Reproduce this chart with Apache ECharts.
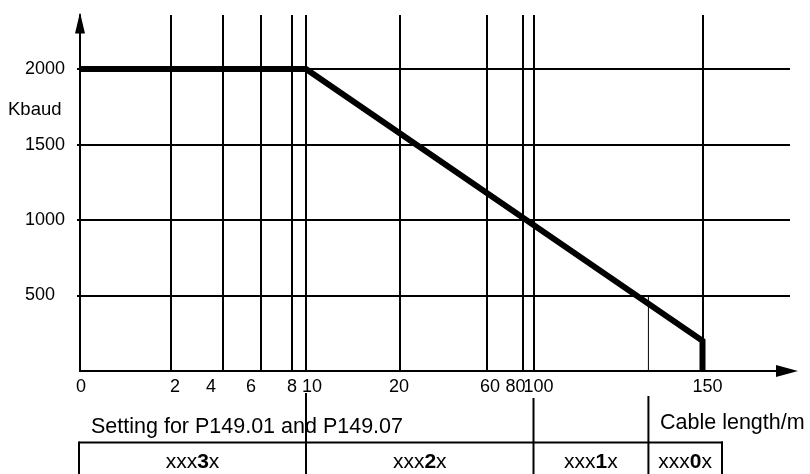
<!DOCTYPE html>
<html><head><meta charset="utf-8">
<script src="https://cdn.jsdelivr.net/npm/echarts@6/dist/echarts.min.js"></script>
<style>html,body{margin:0;padding:0;background:#fff}#c{width:810px;height:474px}</style>
</head><body><div id="c"></div>
<script>
// ---- data ----
const lengthTicks = [0, 2, 4, 6, 8, 10, 20, 60, 80, 100, 150];   // cable length tick labels (m)
const baudTicks = [500, 1000, 1500, 2000];                        // Kbaud tick labels
const curveLength = [0, 10, 150, 150];
const curveBaud = [2000, 2000, 200, 0];
const markerLength = [134, 134];
const markerBaud = [0, 500];
const settingCodes = ['3', '2', '1', '0'];
const settingStart = [0, 10, 100, 134];   // cable length where each setting column starts

// ---- non-linear axis scale of the original drawing (display units per tick) ----
const axisScaleStops = [0, 91, 143, 181, 212, 226, 320, 407, 442.5, 453.5, 622.5];
const xLabelNudge = [1, 4, -12, -10, 0, 6, -1, 3, -7, 5, 5];

const FONT = '"Liberation Sans", Arial, sans-serif';
function scalePos(len) {
  const n = lengthTicks.length;
  for (let i = 0; i < n - 1; i++) {
    const a = lengthTicks[i], b = lengthTicks[i + 1];
    if (len <= b || i === n - 2) {
      return axisScaleStops[i] + (len - a) / (b - a) * (axisScaleStops[i + 1] - axisScaleStops[i]);
    }
  }
}
const tickPos = lengthTicks.map(scalePos);
const richX = {};
lengthTicks.forEach((t, i) => {
  const d = xLabelNudge[i];
  richX['t' + i] = { fontSize: 18, fontFamily: FONT, color: '#000',
    padding: d >= 0 ? [0, 0, 0, 2 * d] : [0, -2 * d, 0, 0] };
});

const chart = echarts.init(document.getElementById('c'), null, { renderer: 'canvas' });
const option = {
  animation: false,
  backgroundColor: '#fff',
  grid: { left: 80, right: 20, top: 15, bottom: 103, containLabel: false, outerBoundsMode: 'none' },
  xAxis: {
    type: 'value', min: 0, max: 710,
    axisLine: { show: true, symbol: ['none', 'triangle'], symbolSize: [12, 22], symbolOffset: [0, -3],
      lineStyle: { color: '#000', width: 2 } },
    axisTick: { show: false },
    splitLine: { show: false },
    axisLabel: {
      customValues: tickPos, margin: 7, color: '#000', fontSize: 18, fontFamily: FONT,
      formatter: function (v) {
        const i = tickPos.findIndex(p => Math.abs(p - v) < 1e-6);
        return i < 0 ? '' : '{t' + i + '|' + lengthTicks[i] + '}';
      },
      rich: richX
    }
  },
  yAxis: {
    type: 'value', min: 0, max: 2358, interval: 500,
    axisLine: { show: true, symbol: ['none', 'triangle'], symbolSize: [10, 21], symbolOffset: [0, -8],
      lineStyle: { color: '#000', width: 2 } },
    axisTick: { show: true, customValues: baudTicks, length: 3, lineStyle: { color: '#000', width: 2 } },
    axisLabel: {
      customValues: baudTicks, margin: 15, color: '#000', fontSize: 18, fontFamily: FONT,
      formatter: v => (v === 500 ? '{s|' + v + '}' : '{n|' + v + '}'),
      rich: {
        n: { fontSize: 18, fontFamily: FONT, color: '#000' },
        s: { fontSize: 18, fontFamily: FONT, color: '#000', padding: [0, 10, 0, 0] }
      }
    },
    splitLine: { show: true, showMinLine: true, showMaxLine: true, lineStyle: { color: '#000', width: 2 } }
  },
  series: [
    {
      type: 'line', z: 2, clip: false, symbol: 'none', silent: true,
      data: markerLength.map((l, i) => [scalePos(l), markerBaud[i]]),
      lineStyle: { color: '#000', width: 1 },
      markLine: {
        silent: true, symbol: ['none', 'none'], label: { show: false },
        lineStyle: { color: '#000', width: 2, type: 'solid' },
        emphasis: { disabled: true },
        data: lengthTicks.filter(l => l > 0).map(l => ({ xAxis: scalePos(l) }))
      }
    },
    {
      type: 'line', z: 5, clip: false, symbol: 'none', silent: true,
      data: curveLength.map((l, i) => [scalePos(l), curveBaud[i]]),
      lineStyle: { color: '#000', width: 6, cap: 'butt', join: 'miter' }
    }
  ]
};
chart.setOption(option);

// ---- table and free texts below the chart ----
const px = l => chart.convertToPixel({ xAxisIndex: 0 }, scalePos(l));
const TABLE_TOP = 442.5, TABLE_RIGHT = 722, IMG_BOTTOM = 476;
const dividerTops = [393, 398, 396];
const bounds = settingStart.map(px);
bounds[0] = bounds[0] - 1;
bounds.push(TABLE_RIGHT);
const g = [];
const L = (x1, y1, x2, y2, w) => g.push({ type: 'line', silent: true, shape: { x1, y1, x2, y2 },
  style: { stroke: '#000', lineWidth: w || 2 }, z: 10 });
L(bounds[0], TABLE_TOP, TABLE_RIGHT + 1, TABLE_TOP);
L(bounds[0], TABLE_TOP - 1, bounds[0], IMG_BOTTOM);
L(TABLE_RIGHT, TABLE_TOP - 1, TABLE_RIGHT, IMG_BOTTOM);
for (let i = 1; i < settingStart.length; i++) L(bounds[i], dividerTops[i - 1], bounds[i], IMG_BOTTOM);
const T = (text, x, y, size, align, rich) => g.push({ type: 'text', silent: true, z: 11,
  style: { text, x, y, fill: '#000', fontSize: size, fontFamily: FONT,
    align: align, textAlign: align, verticalAlign: 'middle', textVerticalAlign: 'middle', rich } });
settingCodes.forEach((c, i) => {
  T('{n|xxx}{b|' + c + '}{n|x}', (bounds[i] + bounds[i + 1]) / 2, 462, 21, 'center', {
    n: { fontSize: 21, fontFamily: FONT, fill: '#000' },
    b: { fontSize: 21, fontFamily: FONT, fill: '#000', fontWeight: 'bold' }
  });
});
T('Setting for P149.01 and P149.07', 91, 427, 21.5, 'left');
T('Cable length/m', 660, 423, 21.5, 'left');
T('Kbaud', 8, 110, 18.5, 'left');
chart.setOption({ graphic: { elements: g } });
</script>
</body></html>
